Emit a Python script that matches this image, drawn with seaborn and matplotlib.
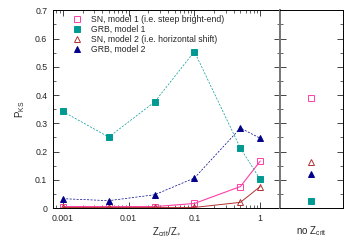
import numpy as np
import pandas as pd
import matplotlib
matplotlib.use("Agg")
import matplotlib.pyplot as plt
import seaborn as sns
from matplotlib.lines import Line2D
from matplotlib.ticker import MultipleLocator, LogLocator, NullFormatter, FixedLocator, FixedFormatter

# data
zcrit = [0.001, 0.005, 0.025, 0.1, 0.5, 1.0]
sn_model1 = [0.005, 0.005, 0.005, 0.016, 0.076, 0.166]
grb_model1 = [0.342, 0.251, 0.376, 0.554, 0.212, 0.101]
sn_model2 = [0.002, 0.002, 0.002, 0.002, 0.020, 0.076]
grb_model2 = [0.033, 0.026, 0.047, 0.106, 0.283, 0.247]
no_zcrit = {"sn1": 0.389, "grb1": 0.026, "sn2": 0.163, "grb2": 0.119}

labels = ["SN, model 1 (i.e. steep bright-end)", "GRB, model 1",
          "SN, model 2 (i.e. horizontal shift)", "GRB, model 2"]

sns.set_style("ticks")
plt.rcParams['font.family'] = ['Liberation Sans', 'DejaVu Sans']
plt.rcParams['mathtext.fontset'] = 'custom'
plt.rcParams['mathtext.rm'] = 'Liberation Sans'
plt.rcParams['mathtext.it'] = 'Liberation Sans'
plt.rcParams['font.size'] = 6

teal = "#009a93"
navy = "#00008b"
pink = "#ff3fa6"
brown = "#b03030"

series = [
    ("sn1", sn_model1, pink, "s", "none", "-", 0.8),
    ("grb1", grb_model1, teal, "s", teal, (0, (3, 2)), 0.5),
    ("sn2", sn_model2, brown, "^", "none", "-", 0.7),
    ("grb2", grb_model2, navy, "^", navy, (0, (3, 2)), 0.5),
]
msize = {"s": 4.6, "^": 4.4}

fig = plt.figure(figsize=(3.5, 2.45), dpi=100)
gs = fig.add_gridspec(1, 2, width_ratios=[227, 63], wspace=0,
                      left=0.151, right=0.98, top=0.958, bottom=0.151)
ax = fig.add_subplot(gs[0])
ax2 = fig.add_subplot(gs[1], sharey=ax)

handles = []
for key, vals, col, mk, mfc, ls, lw in series:
    df = pd.DataFrame({"z": zcrit, "p": vals})
    sns.lineplot(data=df, x="z", y="p", ax=ax, color=col, linestyle=ls, lw=lw,
                 marker=mk, markersize=msize[mk],
                 markerfacecolor=mfc, markeredgecolor=col, markeredgewidth=0.7)
    ax2.plot([0], [no_zcrit[key]], marker=mk, markersize=msize[mk],
             markerfacecolor=mfc, markeredgecolor=col, markeredgewidth=0.7,
             linestyle="none")
    handles.append(Line2D([], [], marker=mk, markersize=msize[mk] - 0.6,
                          markerfacecolor=mfc, markeredgecolor=col,
                          markeredgewidth=0.7, linestyle="none"))

ax.set_xscale("log")
ax.set_xlim(10 ** -3.15, 10 ** 0.3)
ax.set_ylim(0, 0.7)
ax.yaxis.set_major_locator(MultipleLocator(0.1))
ax.yaxis.set_minor_locator(MultipleLocator(0.05))
ax.xaxis.set_major_locator(FixedLocator([0.001, 0.01, 0.1, 1]))
ax.xaxis.set_major_formatter(FixedFormatter(["0.001", "0.01", "0.1", "1"]))
ax.xaxis.set_minor_locator(LogLocator(base=10, subs=np.arange(2, 10)))
ax.xaxis.set_minor_formatter(NullFormatter())
ax.yaxis.set_major_formatter(matplotlib.ticker.FuncFormatter(
    lambda v, p: "0" if abs(v) < 1e-9 else f"{v:.1f}"))
ax.tick_params(which="both", direction="in", top=True, right=True, labelsize=6.3, pad=4)
ax.tick_params(which="major", length=4, width=0.6)
ax.tick_params(which="minor", length=2, width=0.5)
ax.set_xlabel(r"Z$_{\rm crit}$/Z$_{\ast}$", fontsize=7, labelpad=2)
ax.set_ylabel(r"P$_{\rm KS}$", fontsize=7, labelpad=6)

ax2.set_xlim(-1, 1)
ax2.set_xticks([])
ax2.tick_params(axis="y", which="both", direction="in", left=True, right=True,
                labelleft=False)
ax2.tick_params(which="major", length=4, width=0.6)
ax2.tick_params(which="minor", length=2, width=0.5)
ax2.set_xlabel(r"no Z$_{\rm crit}$", fontsize=7, labelpad=12)
ax2.set_ylabel("")

for a in (ax, ax2):
    for s in a.spines.values():
        s.set_linewidth(0.7)
        s.set_color("black")
ax.spines["right"].set_color("#777777")
ax.spines["right"].set_linewidth(1.4)
ax2.spines["left"].set_color("#777777")
ax2.spines["left"].set_linewidth(1.4)

ax.legend(handles, labels, loc="upper left", bbox_to_anchor=(0.06, 1.005),
          frameon=False, fontsize=6.2, handlelength=1.0, handletextpad=1.1,
          labelspacing=0.1, borderaxespad=0.3)

fig.savefig("out.png", dpi=100)
